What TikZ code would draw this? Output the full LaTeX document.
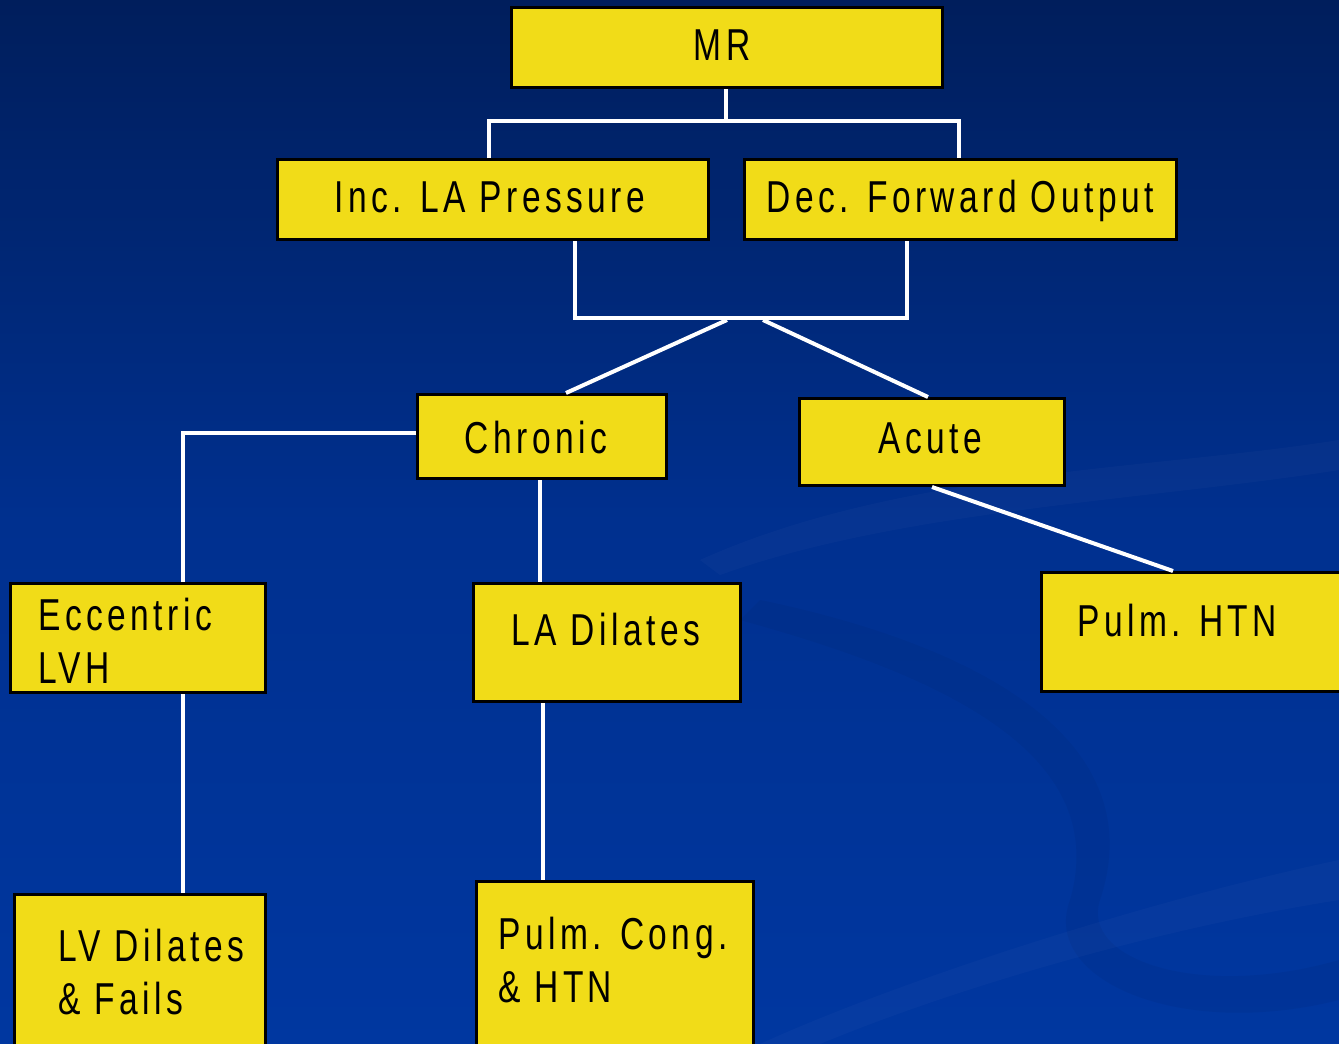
\documentclass[tikz,border=0pt]{standalone}
\usepackage{fontspec}
\setmainfont{Liberation Sans}[FakeStretch=0.75,LetterSpace=10]
\definecolor{boxyellow}{HTML}{F1DC18}
\definecolor{bgtop}{HTML}{001E5C}
\definecolor{bgmid}{HTML}{00308F}
\definecolor{bgbot}{HTML}{0037A0}
\begin{document}
\begin{tikzpicture}[x=1pt,y=-1pt,
  box/.style={draw=black, line width=3pt, fill=boxyellow, inner sep=0pt},
  lbl/.style={inner sep=0pt, text=black, font=\fontsize{44.7}{53}\selectfont},
  link/.style={draw=white, line width=4pt}]
\useasboundingbox (0,0) rectangle (1339,1044);
\clip (0,0) rectangle (1339,1044);
\shade[top color=bgtop, bottom color=bgbot, middle color=bgmid] (0,0) rectangle (1339,1044);
% faint background swooshes
\fill[white, opacity=0.025] (700,560) .. controls (900,470) and (1150,470) .. (1339,440) -- (1339,470) .. controls (1150,500) and (900,510) .. (720,575) -- cycle;
\fill[black, opacity=0.04] (760,600) .. controls (1000,650) and (1150,750) .. (1100,900) .. controls (1080,960) and (1200,1000) .. (1339,960) -- (1339,1000) .. controls (1180,1040) and (1040,980) .. (1070,900) .. controls (1110,760) and (960,680) .. (740,620) -- cycle;
\fill[white, opacity=0.025] (1339,860) .. controls (1150,900) and (900,980) .. (760,1044) -- (820,1044) .. controls (950,990) and (1150,930) .. (1339,900) -- cycle;
% boxes
\node[box, anchor=north west, minimum width=431, minimum height=80] (mr) at (510,6) {};
\node[box, anchor=north west, minimum width=431, minimum height=80] (inc) at (276,158) {};
\node[box, anchor=north west, minimum width=432, minimum height=80] (dec) at (743,158) {};
\node[box, anchor=north west, minimum width=249, minimum height=84] (chr) at (416,393) {};
\node[box, anchor=north west, minimum width=265, minimum height=87] (acu) at (798,397) {};
\node[box, anchor=north west, minimum width=255, minimum height=109] (ecc) at (9,582) {};
\node[box, anchor=north west, minimum width=267, minimum height=118] (lad) at (472,582) {};
\node[box, anchor=north west, minimum width=320, minimum height=119] (phtn) at (1040,571) {};
\node[box, anchor=north west, minimum width=251, minimum height=170] (lvd) at (13,893) {};
\node[box, anchor=north west, minimum width=277, minimum height=180] (pcg) at (475,880) {};
% labels
\node[lbl, anchor=base] (tmr) at (722,60) {MR};
\node[lbl, anchor=base] (tinc) at (490,212) {Inc. LA Pressure};
\node[lbl, anchor=base] (tdec) at (960,212) {Dec. Forward Output};
\node[lbl, anchor=base] (tchr) at (536,453) {Chronic};
\node[lbl, anchor=base] (tacu) at (930,453) {Acute};
\node[lbl, anchor=base west, align=left] (tecc) at (38,683) {Eccentric\\LVH};
\node[lbl, anchor=base] (tlad) at (606,645) {LA Dilates};
\node[lbl, anchor=base west] (tphtn) at (1077,636) {Pulm. HTN};
\node[lbl, anchor=base west, align=left] (tlvd) at (58,1014) {LV Dilates\\\& Fails};
\node[lbl, anchor=base west, align=left] (tpcg) at (498,1002) {Pulm. Cong.\\\& HTN};
% connectors
\coordinate (j1) at (726,121);
\coordinate (b1) at (575,318);
\coordinate (b2) at (907,318);
\coordinate (j2a) at (727,320);
\coordinate (j2b) at (763,320);
\draw[link] (mr.south -| j1) -- (j1);
\draw[link] (inc.north -| 489,0) |- (j1) -| (dec.north -| 959,0);
\draw[link] (inc.south -| b1) -- (b1) -- (b2) -- (dec.south -| b2);
\draw[link] (j2a) -- (chr.north -| 566,0);
\draw[link] (j2b) -- (acu.north -| 928,0);
\draw[link] (chr.west |- 0,433) -| (ecc.north -| 183,0);
\draw[link] (chr.south -| 540,0) -- (lad.north -| 540,0);
\draw[link] (acu.south -| 932,0) -- (phtn.north -| 1173,0);
\draw[link] (ecc.south -| 183,0) -- (lvd.north -| 183,0);
\draw[link] (lad.south -| 543,0) -- (pcg.north -| 543,0);
\end{tikzpicture}
\end{document}
